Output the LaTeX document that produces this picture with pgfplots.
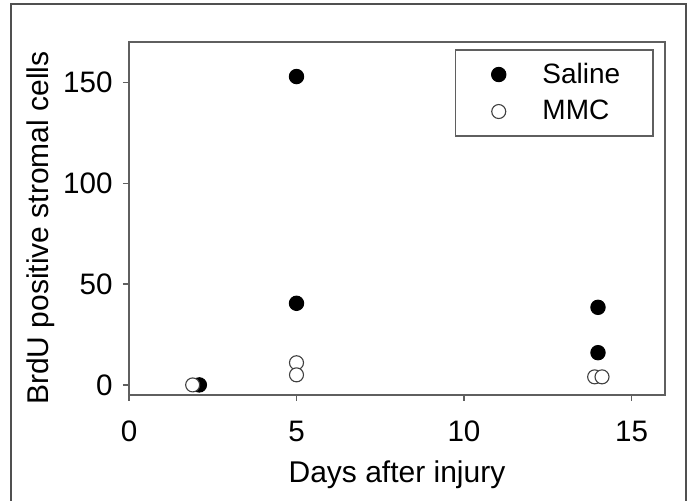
\documentclass[border=0pt]{standalone}
\usepackage{fontspec}
\setmainfont{Liberation Sans}
\usepackage{pgfplots}
\pgfplotsset{compat=1.18}
\definecolor{axgray}{RGB}{95,95,95}
\definecolor{framegray}{RGB}{80,80,80}
\begin{document}
\begin{tikzpicture}
\useasboundingbox (-64.5pt,-53pt) rectangle (280pt,197.5pt);
\draw[framegray, line width=0.8pt] (-59pt,-60pt) -- (-59pt,195.5pt) -- (278.5pt,195.5pt) -- (278.5pt,-60pt);
\begin{axis}[
  at={(0,0)}, anchor=south west,
  width=268pt, height=176.35pt, scale only axis,
  xmin=0, xmax=16, ymin=-5, ymax=170,
  xtick={0,5,10,15}, ytick={0,50,100,150},
  tick align=outside, xtick pos=bottom, ytick pos=left,
  major tick length=3pt,
  axis line style={axgray, line width=0.9pt},
  tick style={axgray, line width=0.7pt},
  /pgf/number format/assume math mode=true,
  tick label style={font=\fontsize{14.8}{17}\selectfont},
  xticklabel style={anchor=base, yshift=-20.5pt},
  yticklabel style={anchor=east, inner xsep=0pt, xshift=-5pt},
  label style={font=\fontsize{15}{18}\selectfont},
  xlabel={Days after injury},
  ylabel={BrdU positive stromal cells},
  xlabel style={at={(rel axis cs:0.5,-0.2467)}, anchor=base},
  ylabel style={at={(rel axis cs:-0.1511,0.4735)}, anchor=base},
  legend style={at={(rel axis cs:0.6082,0.9802)}, anchor=north west,
    draw=axgray, line width=0.75pt, inner xsep=16.4pt, inner ysep=3pt,
    font=\fontsize{14}{16}\selectfont, row sep=0pt, column sep=0pt,
    nodes={inner xsep=0pt, inner ysep=0pt}, cells={anchor=west}},
  legend image code/.code={\path[draw=none,fill=none] (-5.1pt,-9.25pt) rectangle (21.85pt,9.25pt); \draw[#1] plot coordinates {(0pt,0pt)};},
]
\addplot[only marks, mark=*, mark size=3.6pt, mark options={fill=black, draw=black, line width=0.5pt}] table {
x y
2.1 0
5 153
5 40.5
14 38.5
14 16
};
\addlegendentry{Saline}
\addplot[only marks, mark=*, mark size=3.5pt, mark options={fill=white, draw=black!75, line width=0.55pt}] table {
x y
1.9 0
5 11
5 5
13.9 4
14.12 4
};
\addlegendentry{MMC}
\end{axis}
\end{tikzpicture}
\end{document}
